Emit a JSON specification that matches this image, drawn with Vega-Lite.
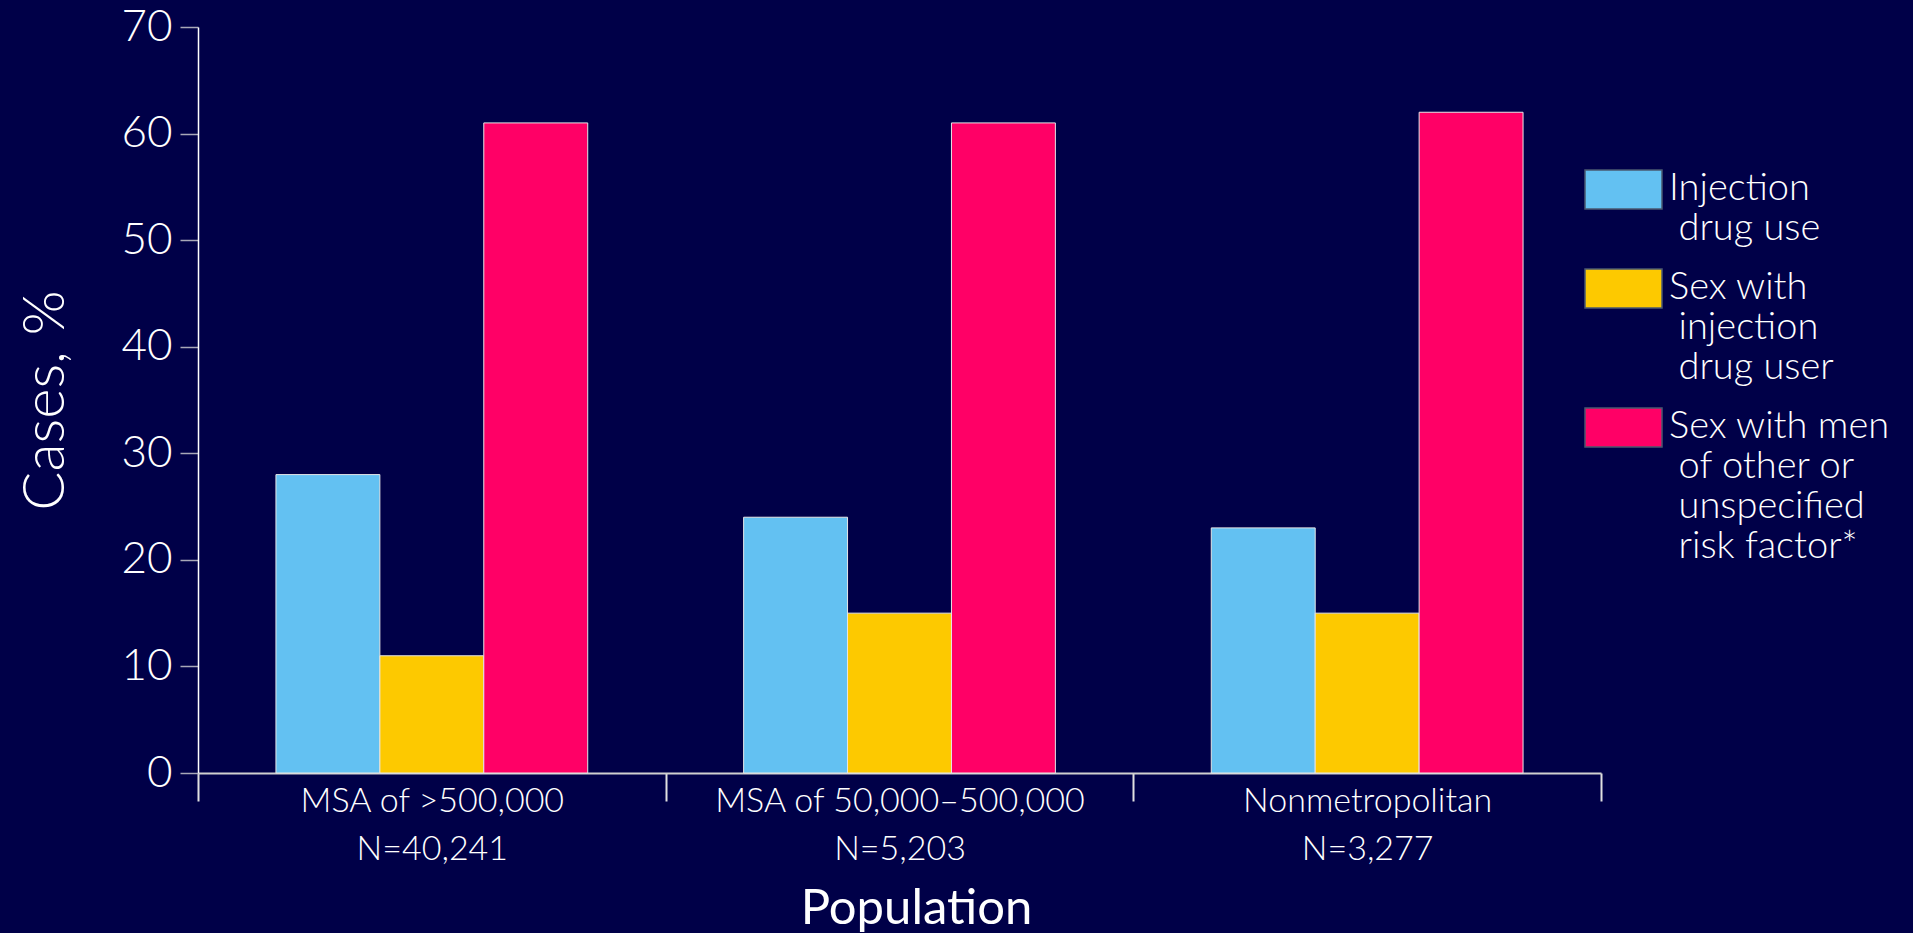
{
  "$schema": "https://vega.github.io/schema/vega-lite/v6.json",
  "width": 1403,
  "height": 746,
  "autosize": {"type": "none"},
  "padding": {"left": 198, "top": 27, "right": 312, "bottom": 160},
  "background": "#000048",
  "config": {"view": {"stroke": null}, "font": "Lato"},
  "data": {
    "values": [
      {"population": "MSA of >500,000|N=40,241", "risk": "Injection|\u200b\u2005drug use", "pct": 28},
      {"population": "MSA of >500,000|N=40,241", "risk": "Sex with|\u200b\u2005injection|\u200b\u2005drug user", "pct": 11},
      {"population": "MSA of >500,000|N=40,241", "risk": "Sex with men|\u200b\u2005of other or|\u200b\u2005unspecified|\u200b\u2005risk factor*", "pct": 61},
      {"population": "MSA of 50,000–500,000|N=5,203", "risk": "Injection|\u200b\u2005drug use", "pct": 24},
      {"population": "MSA of 50,000–500,000|N=5,203", "risk": "Sex with|\u200b\u2005injection|\u200b\u2005drug user", "pct": 15},
      {"population": "MSA of 50,000–500,000|N=5,203", "risk": "Sex with men|\u200b\u2005of other or|\u200b\u2005unspecified|\u200b\u2005risk factor*", "pct": 61},
      {"population": "Nonmetropolitan|N=3,277", "risk": "Injection|\u200b\u2005drug use", "pct": 23},
      {"population": "Nonmetropolitan|N=3,277", "risk": "Sex with|\u200b\u2005injection|\u200b\u2005drug user", "pct": 15},
      {"population": "Nonmetropolitan|N=3,277", "risk": "Sex with men|\u200b\u2005of other or|\u200b\u2005unspecified|\u200b\u2005risk factor*", "pct": 62}
    ]
  },
  "mark": {"type": "bar", "stroke": "#e6e6e6", "strokeWidth": 1},
  "encoding": {
    "x": {
      "field": "population",
      "type": "nominal",
      "sort": ["MSA of >500,000|N=40,241", "MSA of 50,000–500,000|N=5,203", "Nonmetropolitan|N=3,277"],
      "scale": {"paddingInner": 0, "paddingOuter": 0},
      "axis": {
        "title": "Population",
        "titleFontSize": 49,
        "titleFontWeight": "normal",
        "titleColor": "#ffffff",
        "titlePadding": 18,
        "titleX": 718,
        "labelExpr": "split(datum.label, '|')",
        "labelAngle": 0,
        "labelFontSize": 34,
        "labelFontWeight": 300,
        "labelLineHeight": 48,
        "labelBaseline": "top",
        "labelPadding": -17,
        "labelLimit": 0,
        "labelColor": "#ffffff",
        "tickBand": "extent",
        "tickSize": 28,
        "tickWidth": 2,
        "tickColor": "#e0e0e0",
        "domainColor": "#d0d0d0",
        "domainWidth": 2,
        "grid": false
      }
    },
    "xOffset": {
      "field": "risk",
      "type": "nominal",
      "sort": ["Injection|\u200b\u2005drug use", "Sex with|\u200b\u2005injection|\u200b\u2005drug user", "Sex with men|\u200b\u2005of other or|\u200b\u2005unspecified|\u200b\u2005risk factor*"],
      "scale": {"paddingInner": 0, "paddingOuter": 0.75}
    },
    "y": {
      "field": "pct",
      "type": "quantitative",
      "scale": {"domain": [0, 70], "nice": false},
      "axis": {
        "values": [0, 10, 20, 30, 40, 50, 60, 70],
        "title": "Cases, %",
        "titleFontSize": 58,
        "titleFontWeight": 300,
        "titleColor": "#ffffff",
        "titlePadding": 45,
        "labelFontSize": 44,
        "labelFontWeight": 300,
        "labelColor": "#ffffff",
        "labelPadding": 8,
        "tickSize": 18,
        "tickWidth": 1.5,
        "tickColor": "#a8a8b8",
        "domainColor": "#ffffff",
        "domainWidth": 1.5,
        "grid": false
      }
    },
    "color": {
      "field": "risk",
      "type": "nominal",
      "sort": ["Injection|\u200b\u2005drug use", "Sex with|\u200b\u2005injection|\u200b\u2005drug user", "Sex with men|\u200b\u2005of other or|\u200b\u2005unspecified|\u200b\u2005risk factor*"],
      "scale": {
        "domain": ["Injection|\u200b\u2005drug use", "Sex with|\u200b\u2005injection|\u200b\u2005drug user", "Sex with men|\u200b\u2005of other or|\u200b\u2005unspecified|\u200b\u2005risk factor*"],
        "range": ["#63c1f2", "#fdc900", "#ff0066"]
      },
      "legend": {
        "title": null,
        "orient": "none",
        "legendX": 1368,
        "legendY": 124,
        "padding": 0,
        "symbolType": "M0,0H154V78H0Z",
        "symbolSize": 1,
        "symbolStrokeColor": "#4a5870",
        "symbolStrokeWidth": 1.5,
        "symbolOpacity": 1,
        "labelExpr": "split(datum.label, '|')",
        "labelFontSize": 38,
        "labelFontWeight": 300,
        "labelLineHeight": 38,
        "labelBaseline": "top",
        "labelColor": "#ffffff",
        "labelOffset": 65,
        "labelLimit": 400,
        "rowPadding": 2
      }
    }
  }
}
